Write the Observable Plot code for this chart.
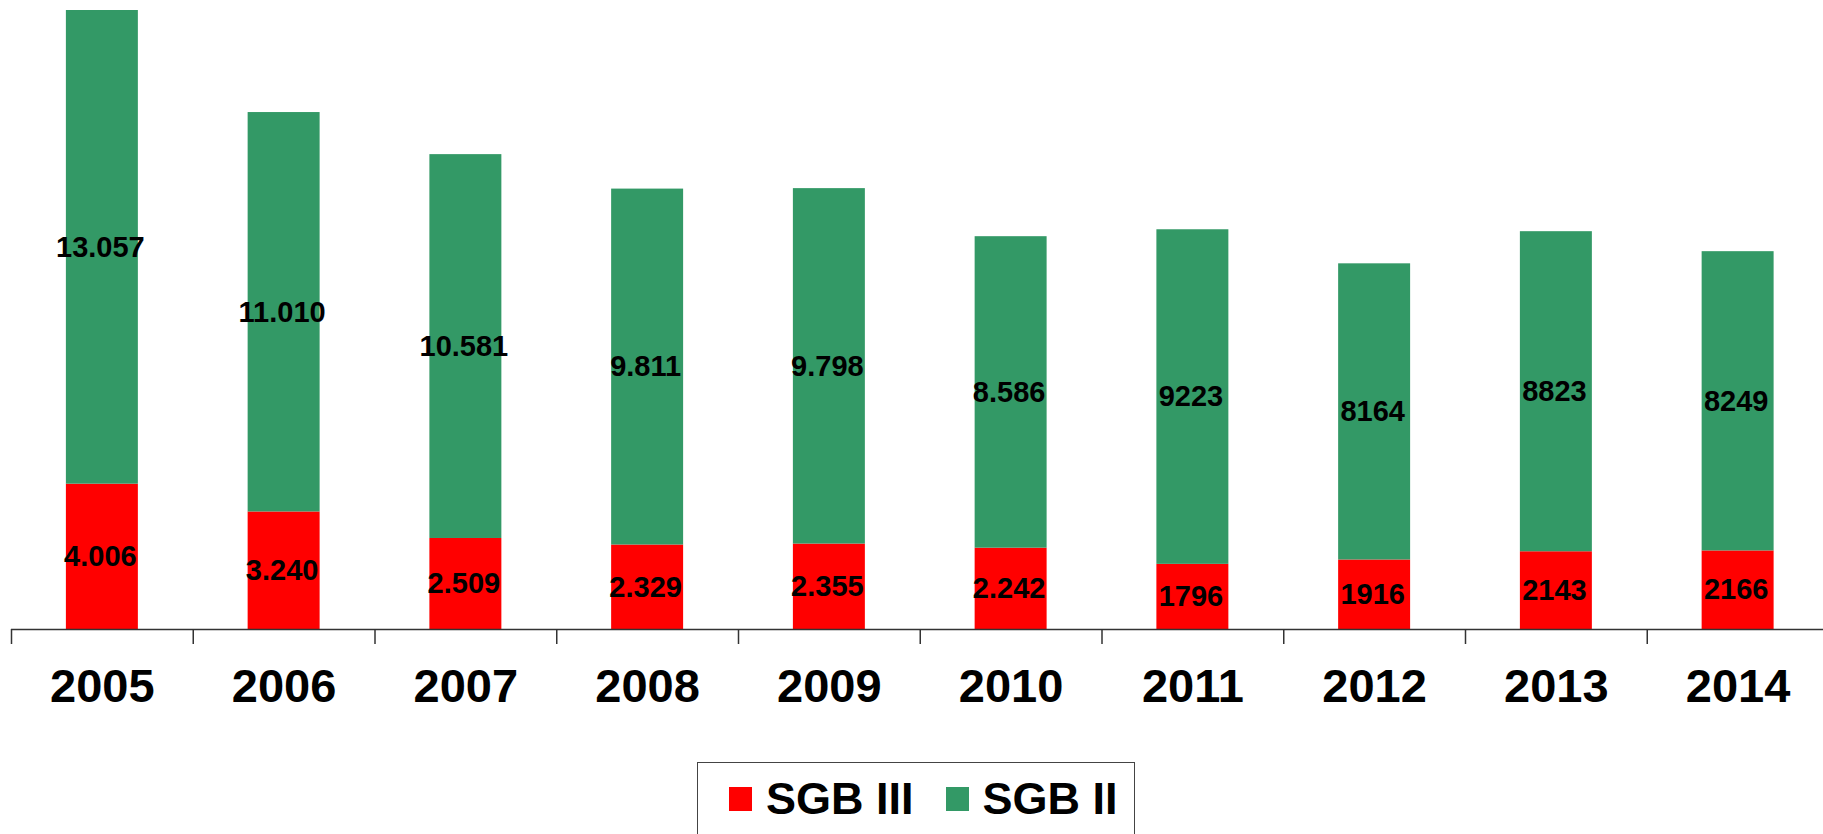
<!DOCTYPE html>
<html>
<head>
<meta charset="utf-8">
<script src="https://cdn.jsdelivr.net/npm/d3@7"></script>
<script src="https://cdn.jsdelivr.net/npm/@observablehq/plot@0.6"></script>
<style>
  html, body { margin: 0; padding: 0; background: #fff; overflow: hidden; }
  body { width: 1823px; height: 834px; font-family: "Liberation Sans", Arial, Helvetica, sans-serif; }
  #chart svg { display: block; }
  #legend {
    margin-top: 42px;
    margin-left: 697px;
    width: 438px;
    height: 120px;
    border: 1.5px solid #444;
    box-sizing: border-box;
    display: flex;
    align-items: flex-start;
    padding-top: 13px;
    padding-left: 31px;
    font-weight: bold;
    font-size: 45px;
    line-height: 45px;
    color: #000;
  }
  .item { display: flex; align-items: center; }
  .sw { width: 23px; height: 24px; margin-right: 14px; }
  .item + .item { margin-left: 32px; }
</style>
</head>
<body>
<div id="chart"></div>
<div id="legend"></div>
<script>
const years = ["2005","2006","2007","2008","2009","2010","2011","2012","2013","2014"];
const seriesNames = ["SGB III", "SGB II"];
const seriesColors = ["#ff0000", "#339966"];
const sgb3 = [4006, 3240, 2509, 2329, 2355, 2242, 1796, 1916, 2143, 2166];
const sgb2 = [13057, 11010, 10581, 9811, 9798, 8586, 9223, 8164, 8823, 8249];
const sgb3Labels = ["4.006","3.240","2.509","2.329","2.355","2.242","1796","1916","2143","2166"];
const sgb2Labels = ["13.057","11.010","10.581","9.811","9.798","8.586","9223","8164","8823","8249"];

const data = [];
years.forEach((y, i) => data.push({year: y, series: seriesNames[0], value: sgb3[i], label: sgb3Labels[i]}));
years.forEach((y, i) => data.push({year: y, series: seriesNames[1], value: sgb2[i], label: sgb2Labels[i]}));

const maxTotal = d3.max(years, (y, i) => sgb3[i] + sgb2[i]);
const xRange = [11, 1828.5];
const step = (xRange[1] - xRange[0]) / years.length;

const plot = Plot.plot({
  width: 1823,
  height: 720,
  marginTop: 10,
  marginBottom: 91,
  marginLeft: 11,
  marginRight: 0,
  style: {fontFamily: '"Liberation Sans", Arial, Helvetica, sans-serif', background: "#fff"},
  x: {type: "band", domain: years, range: xRange, paddingInner: 0.604, paddingOuter: 0.302, round: false, label: null},
  y: {domain: [0, maxTotal], axis: null},
  color: {domain: seriesNames, range: seriesColors},
  marks: [
    Plot.barY(data, Plot.stackY({x: "year", y: "value", z: "series", fill: "series", order: null})),
    Plot.text(data, Plot.stackY({x: "year", y: "value", z: "series", text: "label", order: null,
      fill: "#000", fontSize: 29, fontWeight: "bold", dx: -2})),
    Plot.ruleY([0], {stroke: "#333", strokeWidth: 1.5}),
    Plot.axisX({tickSize: 15, dx: -step / 2, tickFormat: () => "", stroke: "#333", strokeWidth: 1.5, label: null}),
    Plot.axisX({tickSize: 0, tickPadding: 39, fontSize: 47, fontWeight: "bold", fill: "#000", label: null})
  ]
});
document.getElementById("chart").appendChild(plot);

const legend = document.getElementById("legend");
seriesNames.forEach((name, i) => {
  const item = document.createElement("div");
  item.className = "item";
  const sw = document.createElement("span");
  sw.className = "sw";
  sw.style.background = seriesColors[i];
  const t = document.createElement("span");
  t.textContent = name;
  item.appendChild(sw);
  item.appendChild(t);
  legend.appendChild(item);
});
</script>
</body>
</html>
